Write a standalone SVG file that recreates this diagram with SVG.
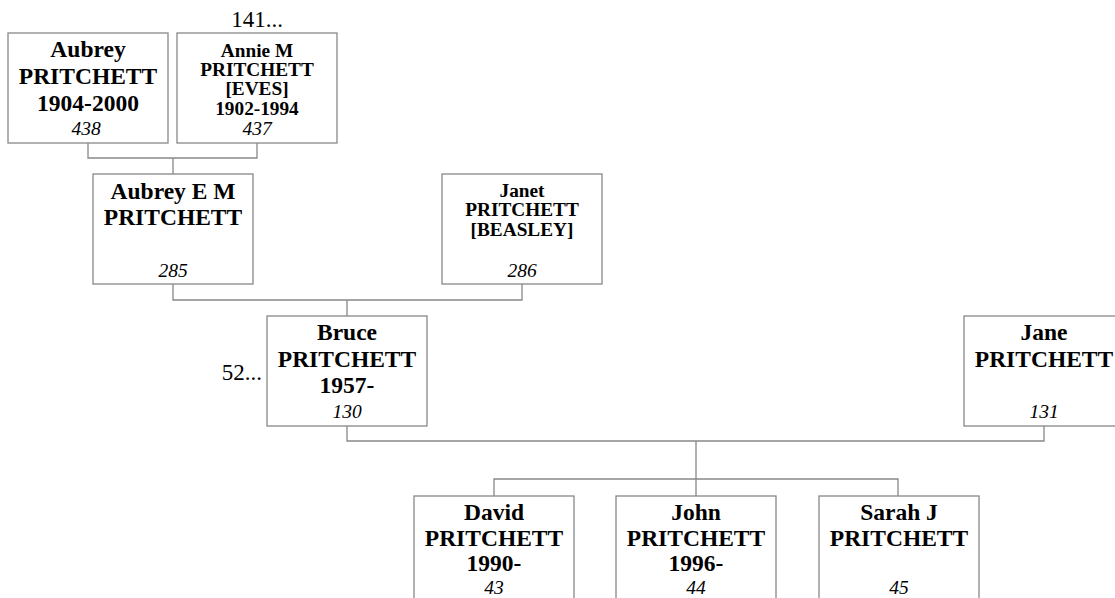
<svg xmlns="http://www.w3.org/2000/svg" width="1115" height="598" viewBox="0 0 1115 598">
<style>
.box{fill:#fff;stroke:#888;stroke-width:1.3}
.n{font-family:"Liberation Serif","Times New Roman",serif;font-weight:bold;font-size:23.5px;fill:#000;text-anchor:middle}
.s{font-family:"Liberation Serif","Times New Roman",serif;font-weight:bold;font-size:19.3px;fill:#000;text-anchor:middle}
.i{font-family:"Liberation Serif","Times New Roman",serif;font-style:italic;font-size:19.5px;fill:#000;text-anchor:middle}
.r{font-family:"Liberation Serif","Times New Roman",serif;font-size:23px;fill:#000}
.c{fill:none;stroke:#888;stroke-width:1.3}
</style>
<rect width="1115" height="598" fill="#fff"/>
<g id="connectors">
<path class="c" d="M88 143V158H257V143M173 158V174"/>
<path class="c" d="M173 284V300H522V284M347 300V316"/>
<path class="c" d="M347 426V441H1044V426M696 441V496"/>
<path class="c" d="M494 496V479H898V496"/>
</g>
<g id="n438">
<rect class="box" x="8" y="33" width="160" height="110"/>
<text class="n" x="88" y="57">Aubrey</text>
<text class="n" x="88" y="84">PRITCHETT</text>
<text class="n" x="88" y="111">1904-2000</text>
<text class="i" x="86" y="135">438</text>
</g>
<g id="n437">
<text class="r" x="257" y="27" text-anchor="middle">141...</text>
<rect class="box" x="177" y="33" width="160" height="110"/>
<text class="s" x="257" y="57">Annie M</text>
<text class="s" x="257" y="76">PRITCHETT</text>
<text class="s" x="257" y="95">[EVES]</text>
<text class="s" x="257" y="115">1902-1994</text>
<text class="i" x="257" y="135">437</text>
</g>
<g id="n285">
<rect class="box" x="93" y="174" width="160" height="110"/>
<text class="n" x="173" y="199">Aubrey E M</text>
<text class="n" x="173" y="225">PRITCHETT</text>
<text class="i" x="173" y="277">285</text>
</g>
<g id="n286">
<rect class="box" x="442" y="174" width="160" height="110"/>
<text class="s" x="522" y="197">Janet</text>
<text class="s" x="522" y="216">PRITCHETT</text>
<text class="s" x="522" y="236">[BEASLEY]</text>
<text class="i" x="522" y="277">286</text>
</g>
<g id="n130">
<text class="r" x="262" y="380" text-anchor="end">52...</text>
<rect class="box" x="267" y="316" width="160" height="110"/>
<text class="n" x="347" y="340">Bruce</text>
<text class="n" x="347" y="367">PRITCHETT</text>
<text class="n" x="347" y="393">1957-</text>
<text class="i" x="347" y="418">130</text>
</g>
<g id="n131">
<rect class="box" x="964" y="316" width="160" height="110"/>
<text class="n" x="1044" y="340">Jane</text>
<text class="n" x="1044" y="367">PRITCHETT</text>
<text class="i" x="1044" y="418">131</text>
</g>
<g id="n43">
<rect class="box" x="414" y="496" width="160" height="110"/>
<text class="n" x="494" y="520">David</text>
<text class="n" x="494" y="546">PRITCHETT</text>
<text class="n" x="494" y="571">1990-</text>
<text class="i" x="494" y="594">43</text>
</g>
<g id="n44">
<rect class="box" x="616" y="496" width="160" height="110"/>
<text class="n" x="696" y="520">John</text>
<text class="n" x="696" y="546">PRITCHETT</text>
<text class="n" x="696" y="571">1996-</text>
<text class="i" x="696" y="594">44</text>
</g>
<g id="n45">
<rect class="box" x="819" y="496" width="160" height="110"/>
<text class="n" x="899" y="520">Sarah J</text>
<text class="n" x="899" y="546">PRITCHETT</text>
<text class="i" x="899" y="594">45</text>
</g>
</svg>
